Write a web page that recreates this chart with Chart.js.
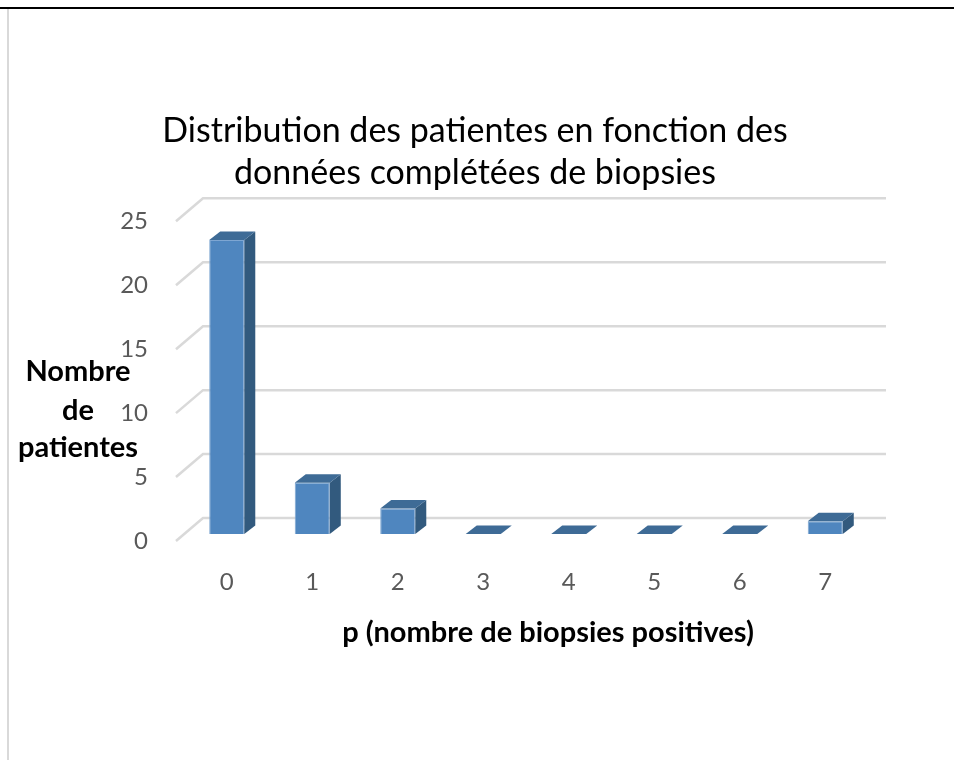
<!DOCTYPE html>
<html>
<head>
<meta charset="utf-8">
<script src="https://cdn.jsdelivr.net/npm/chart.js@4"></script>
<style>
  html, body { margin: 0; padding: 0; background: #fff; }
  #wrap { position: relative; width: 954px; height: 760px; }
</style>
</head>
<body>
<div id="wrap"><canvas id="chart"></canvas></div>
<script>
// data
const categories = ["0", "1", "2", "3", "4", "5", "6", "7"];
const patientCounts = [23, 4, 2, 0, 0, 0, 0, 1];
const yTickValues = [0, 5, 10, 15, 20, 25];
const chartTitle = ["Distribution des patientes en fonction des", "données complétées de biopsies"];
const yTitleLines = ["Nombre", "de", "patientes"];
const xTitle = "p (nombre de biopsies positives)";

// depth of the fake 3d
const DX = 11, DY = 8.5;

const framePlugin = {
  id: 'frame',
  beforeDraw(chart) {
    const ctx = chart.ctx;
    ctx.save();
    ctx.fillStyle = '#fff';
    ctx.fillRect(0, 0, chart.width, chart.height);
    ctx.fillStyle = '#000';
    ctx.fillRect(0, 7, chart.width, 2);
    ctx.fillStyle = '#d9d9d9';
    ctx.fillRect(7, 9, 2, chart.height - 9);
    ctx.restore();
  }
};

// back wall gridlines + the little diagonals on the left
const wallPlugin = {
  id: 'wall',
  beforeDatasetsDraw(chart) {
    const ctx = chart.ctx, y = chart.scales.y, area = chart.chartArea;
    ctx.save();
    ctx.strokeStyle = '#d9d9d9';
    ctx.lineWidth = 2.5;
    yTickValues.forEach(v => {
      const py = y.getPixelForValue(v);
      ctx.beginPath();
      ctx.moveTo(area.left - 8, py + 7);
      ctx.lineTo(area.left + 19, py - 16);
      ctx.lineTo(area.right + 18, py - 16);
      ctx.stroke();
    });
    ctx.restore();
  }
};

const boxPlugin = {
  id: 'box3d',
  afterDatasetsDraw(chart) {
    const ctx = chart.ctx;
    const meta = chart.getDatasetMeta(0);
    ctx.save();
    meta.data.forEach(bar => {
      const l = bar.x - bar.width / 2, r = bar.x + bar.width / 2;
      const top = bar.y, base = bar.base;
      // side
      ctx.fillStyle = '#325a7e';
      ctx.beginPath();
      ctx.moveTo(r, top);
      ctx.lineTo(r + DX, top - DY);
      ctx.lineTo(r + DX, base - DY);
      ctx.lineTo(r, base);
      ctx.closePath();
      ctx.fill();
      // top
      ctx.fillStyle = '#3e6b96';
      ctx.beginPath();
      ctx.moveTo(l, top);
      ctx.lineTo(r, top);
      ctx.lineTo(r + DX, top - DY);
      ctx.lineTo(l + DX, top - DY);
      ctx.closePath();
      ctx.fill();
    });
    ctx.restore();
  }
};

const axisTitlePlugin = {
  id: 'axisTitles',
  afterDraw(chart) {
    const ctx = chart.ctx;
    ctx.save();
    ctx.fillStyle = '#000';
    ctx.font = 'bold 29px Lato';
    ctx.textAlign = 'center';
    ctx.textBaseline = 'middle';
    const ys = [372, 411, 448];
    yTitleLines.forEach((t, i) => ctx.fillText(t, 78, ys[i]));
    ctx.fillText(xTitle, 548, 633);
    ctx.restore();
  }
};

new Chart(document.getElementById('chart'), {
  type: 'bar',
  data: {
    labels: categories,
    datasets: [{
      label: 'Nombre de patientes',
      data: patientCounts,
      backgroundColor: '#4f86bf',
      borderColor: '#7ea6d2',
      borderWidth: 1,
      barPercentage: 0.41,
      categoryPercentage: 1
    }]
  },
  options: {
    responsive: true,
    maintainAspectRatio: false,
    animation: false,
    layout: { padding: { left: 82, right: 86, top: 0, bottom: 0 } },
    plugins: {
      legend: { display: false },
      tooltip: { enabled: false },
      title: {
        display: true,
        text: chartTitle,
        color: '#000',
        font: { family: 'Lato', size: 34, weight: 'normal', lineHeight: 1.24 },
        padding: { top: 110, bottom: 20 }
      }
    },
    scales: {
      x: {
        grid: { display: false, drawTicks: false },
        border: { display: false },
        ticks: { color: '#595959', font: { family: 'Lato', size: 24 }, padding: 34 },
        afterFit(s) { s.height = 226; }
      },
      y: {
        min: 0,
        max: 25,
        grid: { display: false, drawTicks: false },
        border: { display: false },
        afterBuildTicks(s) { s.ticks = yTickValues.map(v => ({ value: v })); },
        ticks: { color: '#595959', font: { family: 'Lato', size: 24 }, padding: 36, labelOffset: 7 },
        afterFit(s) { s.width = 102; }
      }
    }
  },
  plugins: [framePlugin, wallPlugin, boxPlugin, axisTitlePlugin]
});
</script>
</body>
</html>
